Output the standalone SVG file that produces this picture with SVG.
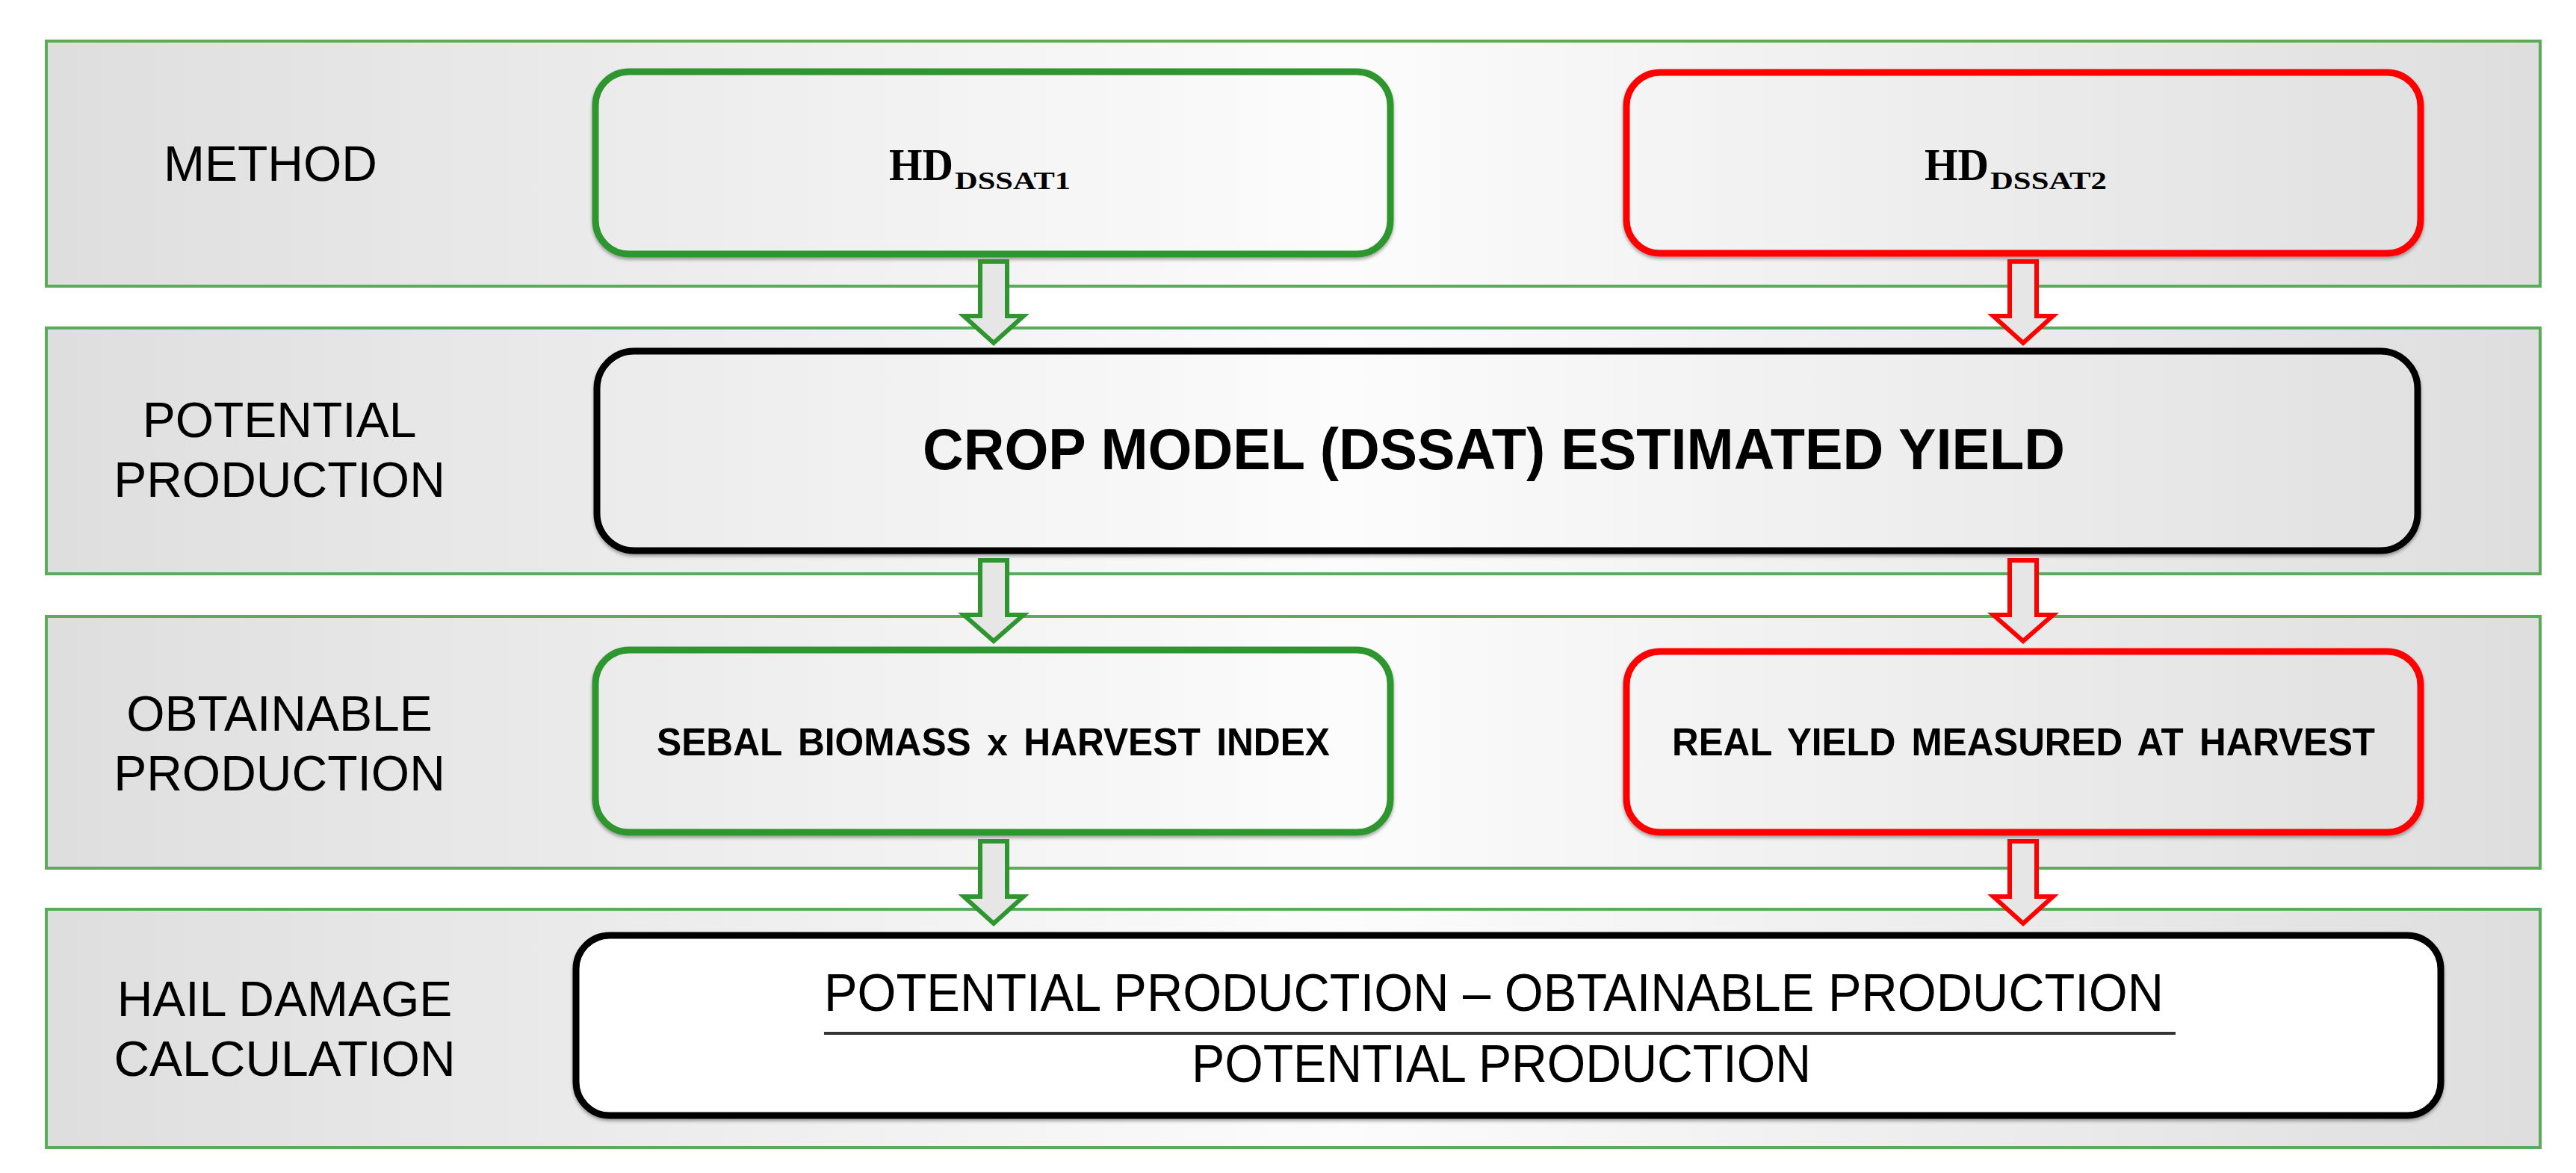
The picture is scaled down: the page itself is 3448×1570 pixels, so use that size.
<svg xmlns="http://www.w3.org/2000/svg" width="3448" height="1570" viewBox="0 0 3448 1570">
<defs>
<linearGradient id="bg" gradientUnits="userSpaceOnUse" x1="62" y1="0" x2="3400" y2="0">
<stop offset="0" stop-color="#dedede"/>
<stop offset="0.52" stop-color="#fcfcfc"/>
<stop offset="1" stop-color="#dedede"/>
</linearGradient>
<filter id="sh" x="-5%" y="-10%" width="110%" height="125%">
<feDropShadow dx="0" dy="3" stdDeviation="2" flood-color="#000" flood-opacity="0.35"/>
</filter>
</defs>
<style>
.band{fill:url(#bg);stroke:#5cab5c;stroke-width:4}
.box{fill:url(#bg);stroke-width:9;filter:url(#sh)}
.g{stroke:#2f962f}
.r{stroke:#ff0000}
.k{stroke:#000000}
.lbl{font-family:"Liberation Sans",Arial,sans-serif;font-size:66px;fill:#000;text-anchor:middle}
.bt{font-family:"Liberation Sans",Arial,sans-serif;font-weight:bold;fill:#000}
.hd{font-family:"Liberation Serif","Times New Roman",serif;font-weight:bold;fill:#000}
.arr{fill:#e6e6e6;stroke-width:6;stroke-linejoin:miter}
.ga{stroke:#2f962f}
.ra{stroke:#ff0000}
</style>
<rect width="3448" height="1570" fill="#ffffff"/>
<g id="bands">
<g id="band-method"><rect class="band" x="62" y="55" width="3338" height="328"/><text class="lbl" x="362" y="242">METHOD</text></g>
<g id="band-potential"><rect class="band" x="62" y="439" width="3338" height="329"/><text class="lbl" x="374" y="585">POTENTIAL</text><text class="lbl" x="374" y="665">PRODUCTION</text></g>
<g id="band-obtainable"><rect class="band" x="62" y="825" width="3338" height="337"/><text class="lbl" x="374" y="978">OBTAINABLE</text><text class="lbl" x="374" y="1058">PRODUCTION</text></g>
<g id="band-hail"><rect class="band" x="62" y="1217" width="3338" height="319"/><text class="lbl" x="381" y="1360">HAIL DAMAGE</text><text class="lbl" x="381" y="1440">CALCULATION</text></g>
</g>
<g id="hd1"><rect class="box g" x="797" y="96" width="1064" height="244" rx="45"/>
<text class="hd" y="241"><tspan x="1190" font-size="62" textLength="86" lengthAdjust="spacingAndGlyphs">HD</tspan><tspan x="1278" y="253" font-size="33" textLength="155" lengthAdjust="spacingAndGlyphs">DSSAT1</tspan></text></g>
<g id="hd2"><rect class="box r" x="2177" y="97" width="1063" height="242" rx="45"/>
<text class="hd" y="241"><tspan x="2576" font-size="62" textLength="86" lengthAdjust="spacingAndGlyphs">HD</tspan><tspan x="2664" y="253" font-size="33" textLength="156" lengthAdjust="spacingAndGlyphs">DSSAT2</tspan></text></g>
<g id="crop-model"><rect class="box k" x="799" y="470" width="2437" height="267" rx="50"/>
<text class="bt" x="1235" y="628" font-size="77" textLength="1529" lengthAdjust="spacingAndGlyphs">CROP MODEL (DSSAT) ESTIMATED YIELD</text></g>
<g id="sebal"><rect class="box g" x="797" y="870" width="1064" height="244" rx="45"/>
<text class="bt" x="879" y="1011" font-size="52" textLength="901" lengthAdjust="spacingAndGlyphs" word-spacing="8">SEBAL BIOMASS x HARVEST INDEX</text></g>
<g id="real-yield"><rect class="box r" x="2177" y="872" width="1063" height="242" rx="45"/>
<text class="bt" x="2238" y="1011" font-size="52" textLength="941" lengthAdjust="spacingAndGlyphs" word-spacing="8">REAL YIELD MEASURED AT HARVEST</text></g>
<g id="hail-formula"><rect class="box k" x="771" y="1252" width="2496" height="241" rx="45" style="fill:#ffffff"/>
<text class="bt" style="font-weight:normal" x="1103" y="1353" font-size="70" textLength="1793" lengthAdjust="spacingAndGlyphs">POTENTIAL PRODUCTION – OBTAINABLE PRODUCTION</text>
<line x1="1103" y1="1383" x2="2912" y2="1383" stroke="#333333" stroke-width="4"/>
<text class="bt" style="font-weight:normal" x="1595" y="1448" font-size="70" textLength="829" lengthAdjust="spacingAndGlyphs">POTENTIAL PRODUCTION</text></g>
<g id="connectors">
<polygon class="arr ga" points="1312,350 1348,350 1348,423 1370,423 1330,459 1290,423 1312,423"/>
<polygon class="arr ra" points="2690,350 2726,350 2726,423 2748,423 2708,459 2668,423 2690,423"/>
<polygon class="arr ga" points="1312,750 1348,750 1348,823 1370,823 1330,858 1290,823 1312,823"/>
<polygon class="arr ra" points="2690,750 2726,750 2726,823 2748,823 2708,858 2668,823 2690,823"/>
<polygon class="arr ga" points="1312,1126 1348,1126 1348,1200 1370,1200 1330,1236 1290,1200 1312,1200"/>
<polygon class="arr ra" points="2690,1126 2726,1126 2726,1200 2748,1200 2708,1236 2668,1200 2690,1200"/>
</g>
</svg>
